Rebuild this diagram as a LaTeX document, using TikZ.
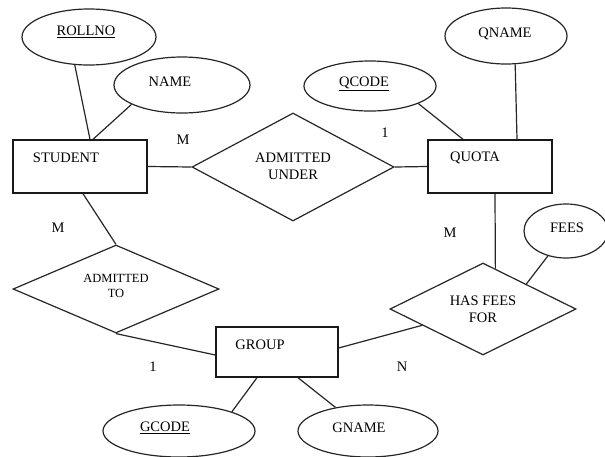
\documentclass[tikz,border=0pt]{standalone}
\usepackage{fontspec}
\setmainfont{Liberation Serif}
\usetikzlibrary{shapes.geometric,calc}
\tikzset{
  ln/.style={line width=1.2pt,black!85},
  attr/.style={ellipse,draw=black!85,line width=1.2pt,inner sep=0pt},
  ent/.style={rectangle,draw=black!90,line width=1.4pt,inner sep=0pt},
  rel/.style={diamond,draw=black!85,line width=1.2pt,inner sep=0pt},
  txt/.style={font=\fontsize{14.5}{17}\selectfont,inner sep=0pt,align=center},
  stxt/.style={font=\fontsize{12.5}{15}\selectfont,inner sep=0pt,align=center},
}
\begin{document}
\begin{tikzpicture}[x=1pt,y=-1pt]
\useasboundingbox[fill=white] (0,0) rectangle (605,456);
% entities
\node[ent,minimum width=134pt,minimum height=53pt] (student) at (80,166.5) {};
\node[ent,minimum width=124pt,minimum height=53pt] (quota) at (490,166.5) {};
\node[ent,minimum width=122pt,minimum height=50pt] (group) at (277,352) {};
\node[txt] (studentT) at (66,158) {STUDENT};
\node[txt] (quotaT) at (475,158) {QUOTA};
\node[txt] (groupT) at (260,345) {GROUP};
% relationships
\node[rel,minimum width=202pt,minimum height=108pt] (admU) at (293,167) {};
\node[rel,minimum width=206pt,minimum height=88pt] (admT) at (116,289) {};
\node[rel,minimum width=186pt,minimum height=92pt] (hasF) at (483,309) {};
\node[txt] (admUT) at (293,166.5) {ADMITTED\\UNDER};
\node[stxt] (admTT) at (116,285.5) {ADMITTED\\TO};
\node[txt] (hasFT) at (483,309) {HAS FEES\\FOR};
% attributes
\node[attr,minimum width=134pt,minimum height=56pt] (rollno) at (89,37) {};
\node[attr,minimum width=136pt,minimum height=56pt] (name) at (182,85) {};
\node[attr,minimum width=132pt,minimum height=50pt] (qcode) at (370,86) {};
\node[attr,minimum width=122pt,minimum height=56pt] (qname) at (506,36) {};
\node[attr,minimum width=84pt,minimum height=54pt] (fees) at (566,231) {};
\node[attr,minimum width=152pt,minimum height=52pt] (gcode) at (179,431) {};
\node[attr,minimum width=140pt,minimum height=52pt] (gname) at (368,431) {};
\node[txt] (rollnoT) at (86,32) {\underline{ROLLNO}};
\node[txt] (nameT) at (170,82) {NAME};
\node[txt] (qcodeT) at (364,84) {\underline{QCODE}};
\node[txt] (qnameT) at (505,34) {QNAME};
\node[txt] (feesT) at (567,228) {FEES};
\node[txt] (gcodeT) at (165,428) {\underline{GCODE}};
\node[txt] (gnameT) at (359,428) {GNAME};
% connectors
\draw[ln] (rollno.243) -- ($(student.north)+(10,0)$);
\draw[ln] (name.201) -- ($(student.north)+(13,0)$);
\draw[ln] (student.east) -- (admU.west);
\draw[ln] (admU.east) -- (quota.west);
\draw[ln] (qcode.340) -- ($(quota.north)+(-27,0)$);
\draw[ln] (qname.-72) -- ($(quota.north)+(27,0)$);
\draw[ln] ($(quota.south)+(5,0)$) -- (hasF.73);
\draw[ln] (fees.234) -- (hasF.30);
\draw[ln] ($(group.east)+(0,-4)$) -- (hasF.195);
\draw[ln] ($(student.south)+(3,0)$) -- (admT.north);
\draw[ln] (admT.south) -- ($(group.west)+(0,3)$);
\draw[ln] ($(group.south)+(-20,0)$) -- (gcode.20);
\draw[ln] ($(group.south)+(21,0)$) -- (gname.144);
% cardinalities
\node[txt] (c1) at (183,140) {M};
\node[txt] (c2) at (385,133) {1};
\node[txt] (c3) at (58,228) {M};
\node[txt] (c4) at (153,367) {1};
\node[txt] (c5) at (450,233) {M};
\node[txt] (c6) at (402,367) {N};
\end{tikzpicture}
\end{document}
